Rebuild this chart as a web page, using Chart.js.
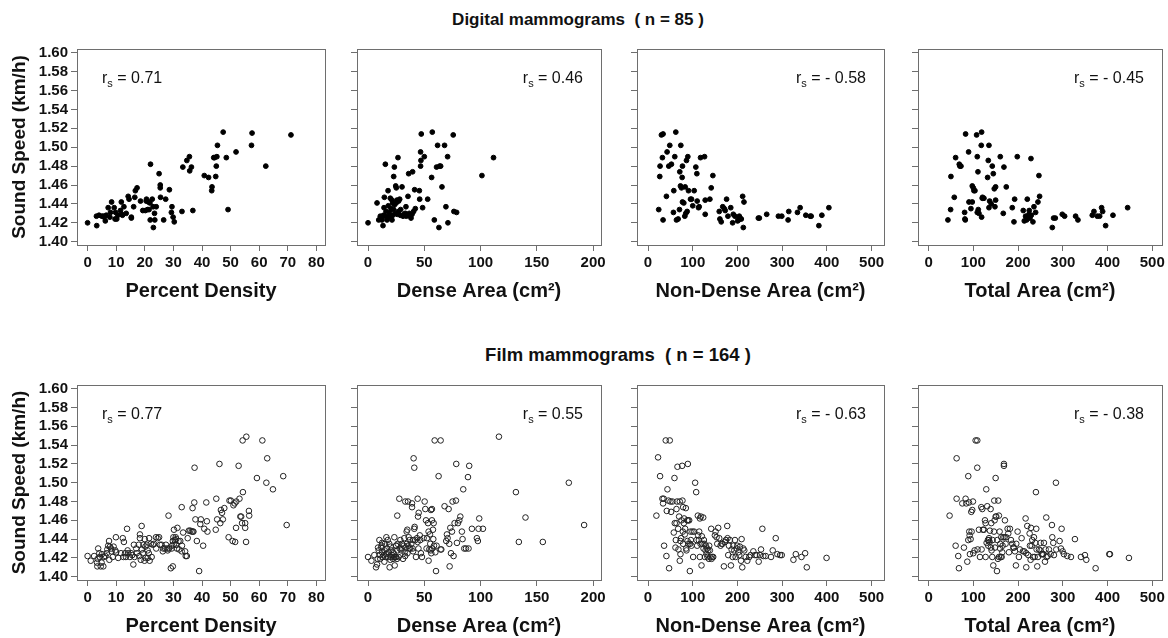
<!DOCTYPE html>
<html>
<head>
<meta charset="utf-8">
<script src="https://cdn.jsdelivr.net/npm/chart.js@4.4.0/dist/chart.umd.min.js"></script>
<style>
  html, body { margin: 0; padding: 0; background: #fff; overflow: hidden; }
  body { width: 1168px; height: 638px; position: relative; font-family: "Liberation Sans", Arial, sans-serif; }
  canvas { position: absolute; }
  .heading { position: absolute; font-weight: bold; white-space: pre; transform: translateX(-50%); color: #111; }
</style>
</head>
<body>
<div class="heading" style="left:578px; top:10px; font-size:17px;">Digital mammograms  ( n = 85 )</div>
<div class="heading" style="left:618px; top:344px; font-size:18.5px;">Film mammograms  ( n = 164 )</div>
<script>
// tick labels
const yTicks = [1.40, 1.42, 1.44, 1.46, 1.48, 1.50, 1.52, 1.54, 1.56, 1.58, 1.60];
const xTicksPercent = [0, 10, 20, 30, 40, 50, 60, 70, 80];
const xTicksDense = [0, 50, 100, 150, 200];
const xTicksArea = [0, 100, 200, 300, 400, 500];

const xTitles = ['Percent Density', 'Dense Area (cm²)', 'Non-Dense Area (cm²)', 'Total Area (cm²)'];
const yTitle = 'Sound Speed (km/h)';
const rsDigital = ['0.71', '0.46', '- 0.58', '- 0.45'];
const rsFilm = ['0.77', '0.55', '- 0.63', '- 0.38'];

// digital mammograms (n = 85), [x, sound speed]
const digitalPercent = [
  [0,1.420],[3.2,1.417],[3.1,1.427],[4.0,1.428],[5.0,1.427],[5.5,1.427],[5.8,1.426],[6.2,1.422],[6.5,1.428],[7.2,1.436],
  [7.8,1.426],[8.0,1.431],[8.4,1.442],[9.3,1.436],[9.6,1.424],[9.8,1.431],[10.2,1.424],[10.6,1.428],[11.5,1.433],[11.8,1.442],
  [12.0,1.429],[12.2,1.428],[12.7,1.437],[13.5,1.430],[14.2,1.448],[14.5,1.445],[15.3,1.426],[15.3,1.425],[16.1,1.437],[16.5,1.447],
  [16.7,1.454],[17.3,1.457],[18.5,1.443],[19.3,1.433],[20.2,1.433],[20.5,1.443],[20.6,1.445],[21.0,1.434],[21.3,1.442],[21.5,1.434],
  [21.8,1.441],[21.9,1.423],[22.0,1.482],[22.6,1.445],[22.9,1.437],[23.0,1.415],[23.4,1.430],[23.5,1.423],[24.0,1.437],[25.0,1.472],
  [25.4,1.457],[25.4,1.460],[25.5,1.447],[26.6,1.423],[27.3,1.445],[28.6,1.455],[29.3,1.431],[29.5,1.437],[29.9,1.426],[30.3,1.421],
  [33.0,1.432],[33.3,1.479],[34.7,1.486],[35.6,1.490],[35.7,1.475],[36.3,1.479],[36.8,1.433],[40.8,1.470],[42.3,1.468],[43.4,1.454],
  [43.5,1.458],[44.1,1.489],[44.4,1.489],[44.8,1.469],[45.0,1.480],[45.2,1.490],[45.4,1.502],[47.4,1.516],[48.5,1.489],[49.1,1.434],
  [51.9,1.495],[57.3,1.502],[57.5,1.515],[62.3,1.480],[71.1,1.513]
];
const digitalDense = [
  [0,1.420],[8.0,1.441],[9.5,1.423],[10.9,1.427],[11.5,1.425],[12.4,1.423],[13.0,1.427],[13.3,1.417],[13.9,1.428],[14.2,1.436],
  [14.5,1.447],[15.4,1.482],[15.4,1.427],[16.0,1.432],[16.9,1.423],[17.8,1.454],[18.0,1.438],[18.3,1.427],[19.0,1.431],[19.8,1.446],
  [20.0,1.426],[20.4,1.435],[21.3,1.444],[21.3,1.423],[21.9,1.441],[22.0,1.428],[22.8,1.434],[22.8,1.469],[23.4,1.479],[23.5,1.439],
  [24.3,1.430],[24.6,1.459],[25.0,1.441],[25.1,1.457],[25.7,1.444],[26.0,1.429],[26.6,1.489],[27.0,1.432],[27.2,1.443],[28.1,1.445],
  [28.7,1.428],[29.0,1.434],[30.2,1.458],[31.1,1.427],[32.0,1.429],[33.1,1.430],[33.7,1.437],[34.0,1.427],[35.5,1.448],[36.1,1.472],
  [36.7,1.430],[37.6,1.427],[38.2,1.425],[39.1,1.429],[39.6,1.474],[40.5,1.432],[41.4,1.455],[42.0,1.435],[45.6,1.454],[45.9,1.445],
  [46.7,1.480],[46.7,1.495],[47.0,1.486],[47.3,1.514],[48.5,1.436],[50.0,1.490],[53.0,1.445],[56.5,1.468],[57.1,1.516],[58.9,1.423],
  [60.9,1.479],[61.8,1.502],[63.0,1.415],[63.6,1.480],[64.5,1.480],[65.7,1.458],[68.0,1.502],[69.2,1.437],[70.7,1.490],[71.0,1.420],
  [75.7,1.513],[76.3,1.432],[78.7,1.431],[101.2,1.470],[111.5,1.489]
];
const digitalNonDense = [
  [23.9,1.434],[26.2,1.469],[26.9,1.480],[29.9,1.513],[32.1,1.489],[33.6,1.514],[33.6,1.423],[41.1,1.448],[42.6,1.495],[46.4,1.480],
  [48.6,1.502],[52.3,1.482],[56.8,1.431],[57.6,1.454],[59.8,1.490],[62.1,1.516],[63.6,1.423],[67.3,1.424],[70.3,1.434],[71.0,1.474],
  [72.5,1.459],[73.3,1.502],[74.8,1.457],[76.3,1.468],[77.0,1.480],[77.0,1.442],[80.0,1.441],[82.2,1.427],[83.0,1.458],[84.5,1.430],
  [86.0,1.486],[87.5,1.432],[89.0,1.490],[90.5,1.454],[95.0,1.445],[97.2,1.445],[100.0,1.438],[103.2,1.454],[106.9,1.479],[109.2,1.472],
  [109.9,1.443],[112.9,1.436],[114.4,1.437],[117.4,1.489],[126.4,1.490],[127.9,1.444],[127.9,1.429],[138.3,1.445],[141.3,1.457],[145.0,1.470],
  [159.3,1.432],[160.7,1.424],[163.7,1.421],[167.1,1.437],[170.5,1.435],[172.6,1.433],[175.7,1.445],[178.7,1.427],[185.0,1.436],[189.2,1.420],
  [190.7,1.429],[194.4,1.427],[200.4,1.422],[202.6,1.423],[204.1,1.427],[205.6,1.425],[208.6,1.424],[211.6,1.448],[213.1,1.415],[214.6,1.442],
  [246.7,1.425],[249.0,1.425],[265.4,1.429],[291.6,1.427],[299.1,1.427],[313.3,1.423],[314.8,1.432],[334.2,1.431],[340.2,1.436],[352.9,1.428],
  [362.6,1.427],[364.9,1.427],[382.1,1.417],[388.8,1.428],[404.5,1.436]
];
const digitalTotal = [
  [43.2,1.423],[49.2,1.434],[49.9,1.469],[57.4,1.447],[60.4,1.489],[68.6,1.482],[70.0,1.480],[72.3,1.480],[80.5,1.431],[81.2,1.424],
  [82.0,1.423],[82.7,1.514],[89.4,1.495],[90.2,1.442],[94.6,1.435],[97.6,1.442],[97.6,1.459],[99.9,1.457],[101.3,1.454],[103.6,1.454],
  [107.3,1.513],[108.8,1.490],[108.8,1.431],[110.3,1.474],[111.0,1.434],[112.5,1.430],[117.7,1.502],[118.5,1.516],[118.5,1.426],[120.0,1.446],
  [120.5,1.447],[123.7,1.446],[131.9,1.468],[133.4,1.486],[134.9,1.502],[134.9,1.436],[136.4,1.443],[140.0,1.440],[142.3,1.480],[144.6,1.472],
  [146.8,1.456],[148.3,1.437],[149.8,1.458],[149.8,1.444],[160.2,1.490],[166.9,1.430],[168.4,1.479],[173.6,1.458],[187.0,1.436],[190.8,1.421],
  [192.3,1.445],[198.2,1.490],[211.6,1.433],[213.9,1.422],[216.8,1.427],[219.1,1.423],[220.6,1.445],[222.1,1.427],[224.3,1.429],[225.0,1.433],
  [226.6,1.425],[228.8,1.488],[229.5,1.428],[233.2,1.421],[235.5,1.437],[239.2,1.431],[244.4,1.442],[246.6,1.470],[248.1,1.448],[276.5,1.415],
  [279.4,1.425],[283.2,1.425],[298.8,1.429],[304.0,1.427],[328.6,1.427],[333.8,1.423],[365.9,1.428],[369.6,1.432],[377.0,1.427],[382.3,1.427],
  [386.7,1.436],[389.0,1.432],[395.7,1.417],[412.1,1.428],[444.9,1.436]
];

// film mammograms (n = 164)
const filmPercent = [
  [0,1.422],[1.1,1.417],[2.3,1.422],[3.3,1.415],[3.4,1.411],[3.5,1.419],[3.7,1.430],[4.1,1.425],[4.3,1.421],[4.6,1.411],
  [4.9,1.415],[5.0,1.424],[5.5,1.411],[5.7,1.421],[6.2,1.422],[6.7,1.425],[6.9,1.429],[7.2,1.433],[7.5,1.438],[7.6,1.418],
  [7.8,1.432],[8.2,1.430],[8.4,1.427],[8.8,1.421],[9.1,1.432],[9.7,1.428],[9.9,1.442],[10.0,1.426],[10.7,1.420],[11.7,1.425],
  [12.3,1.441],[12.5,1.421],[12.7,1.437],[13.1,1.425],[13.4,1.421],[13.8,1.451],[14.0,1.428],[14.2,1.425],[14.8,1.421],[15.2,1.425],
  [15.6,1.423],[16.0,1.413],[16.2,1.434],[16.4,1.421],[17.0,1.430],[17.2,1.425],[17.9,1.434],[18.1,1.422],[18.3,1.445],[18.3,1.441],
  [18.6,1.418],[18.9,1.454],[19.0,1.429],[19.3,1.425],[19.5,1.434],[19.9,1.417],[20.0,1.440],[20.2,1.432],[20.3,1.420],[20.7,1.434],
  [21.0,1.428],[21.0,1.420],[21.4,1.425],[21.5,1.441],[21.7,1.417],[22.1,1.435],[22.4,1.421],[22.8,1.434],[23.2,1.435],[23.9,1.442],
  [24.0,1.430],[24.5,1.441],[25.0,1.442],[25.3,1.434],[25.9,1.434],[26.3,1.427],[26.5,1.430],[27.1,1.430],[27.4,1.434],[27.9,1.430],
  [28.0,1.428],[28.3,1.465],[28.5,1.430],[29.1,1.409],[29.4,1.430],[29.5,1.433],[29.8,1.411],[29.8,1.438],[30.0,1.442],[30.1,1.434],
  [30.2,1.450],[30.5,1.439],[30.8,1.442],[30.9,1.434],[31.0,1.440],[31.2,1.430],[31.4,1.452],[31.8,1.438],[32.0,1.429],[32.4,1.438],
  [32.9,1.474],[32.9,1.427],[33.0,1.433],[33.4,1.447],[34.1,1.427],[34.3,1.422],[34.7,1.422],[35.0,1.441],[35.4,1.449],[35.9,1.449],
  [36.4,1.448],[36.7,1.473],[36.8,1.448],[37.0,1.448],[37.3,1.479],[37.4,1.516],[37.7,1.461],[38.2,1.438],[39.0,1.406],[39.4,1.456],
  [39.6,1.461],[40.4,1.433],[40.8,1.451],[41.5,1.479],[41.7,1.459],[41.9,1.448],[44.8,1.450],[45.0,1.483],[45.3,1.461],[46.1,1.520],
  [46.4,1.457],[46.6,1.471],[47.0,1.468],[47.3,1.461],[47.8,1.473],[49.3,1.442],[49.6,1.481],[50.1,1.481],[50.7,1.438],[51.0,1.476],
  [51.4,1.478],[51.6,1.437],[51.9,1.452],[52.0,1.480],[52.8,1.518],[53.1,1.483],[53.4,1.464],[53.7,1.464],[54.0,1.457],[54.2,1.545],
  [54.3,1.490],[55.1,1.457],[55.1,1.452],[55.4,1.437],[55.5,1.549],[56.4,1.470],[56.5,1.465],[59.2,1.505],[61.1,1.545],[62.5,1.500],
  [62.8,1.526],[64.8,1.493],[68.4,1.507],[69.6,1.455]
];
const filmDense = [
  [0,1.421],[3.0,1.417],[5.6,1.423],[7.1,1.410],[8.0,1.413],[8.6,1.419],[8.9,1.431],[9.5,1.428],[10.1,1.439],[10.4,1.423],
  [10.9,1.419],[11.8,1.431],[12.0,1.433],[12.4,1.426],[12.5,1.436],[13.0,1.421],[13.9,1.423],[14.5,1.416],[14.8,1.428],[15.0,1.435],
  [15.4,1.421],[16.0,1.424],[16.3,1.442],[16.9,1.430],[17.5,1.439],[17.8,1.421],[18.3,1.426],[18.9,1.435],[19.2,1.410],[19.8,1.418],
  [20.0,1.432],[20.4,1.421],[20.7,1.428],[21.3,1.423],[21.9,1.426],[22.2,1.419],[22.8,1.425],[23.1,1.421],[23.4,1.442],[23.7,1.412],
  [24.3,1.421],[24.9,1.433],[25.0,1.433],[25.1,1.421],[25.7,1.419],[26.0,1.465],[26.0,1.428],[26.3,1.435],[27.2,1.421],[27.8,1.483],
  [28.1,1.430],[28.7,1.439],[29.6,1.428],[30.0,1.430],[30.2,1.435],[31.1,1.419],[31.7,1.433],[32.2,1.441],[32.5,1.426],[33.0,1.422],
  [33.1,1.480],[33.7,1.431],[34.3,1.448],[34.6,1.435],[34.9,1.450],[35.0,1.425],[35.5,1.480],[35.8,1.433],[36.1,1.442],[36.7,1.430],
  [37.0,1.439],[37.6,1.430],[38.5,1.435],[39.1,1.478],[39.1,1.474],[39.6,1.430],[40.0,1.427],[40.2,1.439],[40.5,1.526],[41.1,1.516],
  [41.1,1.451],[41.4,1.453],[42.0,1.439],[42.6,1.421],[43.5,1.441],[44.0,1.437],[44.1,1.483],[44.4,1.464],[44.8,1.430],[45.0,1.468],
  [46.0,1.444],[46.4,1.439],[47.0,1.425],[47.9,1.421],[49.4,1.441],[50.3,1.480],[50.9,1.472],[51.5,1.460],[52.0,1.430],[52.4,1.441],
  [53.3,1.457],[53.8,1.448],[53.8,1.417],[54.4,1.429],[55.0,1.445],[55.3,1.435],[55.6,1.428],[55.9,1.471],[56.2,1.425],[56.8,1.472],
  [56.8,1.460],[57.1,1.430],[57.7,1.450],[58.0,1.440],[58.3,1.457],[58.6,1.433],[59.2,1.545],[59.8,1.426],[60.4,1.406],[60.9,1.433],
  [62.7,1.507],[64.5,1.545],[64.5,1.429],[65.1,1.429],[68.0,1.475],[69.5,1.438],[70.1,1.445],[70.7,1.441],[71.6,1.472],[72.2,1.435],
  [72.5,1.411],[73.1,1.452],[73.7,1.425],[74.6,1.448],[75.1,1.480],[76.0,1.422],[76.9,1.457],[78.1,1.481],[78.4,1.520],[79.0,1.436],
  [79.9,1.457],[81.1,1.460],[82.0,1.464],[83.4,1.448],[84.0,1.440],[84.6,1.493],[85.5,1.430],[87.0,1.430],[88.8,1.506],[89.3,1.430],
  [89.9,1.518],[92.3,1.451],[96.7,1.441],[97.6,1.438],[98.2,1.451],[98.8,1.462],[102.1,1.451],[116.3,1.549],[131.4,1.490],[134.0,1.437],
  [139.9,1.463],[155.3,1.437],[178.4,1.500],[192.0,1.455]
];
const filmNonDense = [
  [18.7,1.465],[22.4,1.527],[26.9,1.507],[32.1,1.483],[33.6,1.478],[35.1,1.483],[35.9,1.433],[39.6,1.545],[41.1,1.422],[41.9,1.470],
  [43.4,1.493],[45.6,1.481],[47.1,1.409],[48.6,1.545],[50.1,1.480],[51.6,1.469],[54.6,1.480],[57.6,1.447],[59.1,1.505],[59.8,1.457],
  [61.3,1.431],[62.1,1.439],[63.6,1.472],[63.6,1.457],[65.0,1.480],[65.8,1.517],[67.3,1.451],[68.0,1.429],[69.5,1.464],[71.0,1.417],
  [71.0,1.480],[72.5,1.438],[72.5,1.424],[74.0,1.441],[74.8,1.460],[76.3,1.518],[77.0,1.481],[77.8,1.448],[78.5,1.474],[78.5,1.435],
  [80.0,1.457],[80.7,1.462],[82.2,1.445],[83.0,1.451],[84.5,1.473],[85.2,1.430],[86.0,1.428],[87.5,1.460],[88.2,1.438],[89.0,1.520],
  [89.7,1.460],[90.5,1.435],[92.0,1.460],[93.5,1.406],[94.2,1.435],[95.0,1.448],[95.7,1.439],[97.2,1.433],[99.4,1.448],[100.9,1.421],
  [103.2,1.448],[105.4,1.500],[107.7,1.490],[108.4,1.439],[109.9,1.433],[111.4,1.465],[112.1,1.444],[113.6,1.439],[114.4,1.448],[115.9,1.462],
  [115.9,1.421],[117.4,1.435],[118.1,1.464],[119.6,1.412],[120.4,1.443],[121.9,1.435],[123.4,1.463],[124.1,1.430],[124.9,1.439],[126.4,1.435],
  [127.1,1.421],[128.6,1.428],[129.3,1.433],[130.8,1.424],[132.3,1.430],[133.1,1.421],[134.6,1.428],[136.1,1.419],[136.8,1.433],[138.3,1.428],
  [139.8,1.421],[141.3,1.451],[142.1,1.419],[143.6,1.421],[145.8,1.421],[149.5,1.444],[151.0,1.448],[153.3,1.442],[154.8,1.435],[157.0,1.452],
  [159.3,1.441],[162.2,1.433],[164.5,1.435],[166.7,1.435],[169.7,1.411],[172.0,1.437],[174.2,1.439],[177.2,1.454],[177.9,1.441],[179.4,1.423],
  [180.9,1.433],[183.2,1.439],[185.4,1.412],[186.9,1.429],[189.2,1.421],[190.7,1.433],[192.9,1.428],[194.4,1.439],[195.9,1.421],[198.1,1.430],
  [199.6,1.433],[201.9,1.426],[204.1,1.423],[205.6,1.432],[207.9,1.417],[209.3,1.440],[210.8,1.410],[213.1,1.430],[215.3,1.428],[218.3,1.421],
  [222.1,1.417],[226.5,1.421],[229.5,1.423],[235.5,1.427],[239.3,1.423],[243.0,1.423],[247.5,1.416],[250.5,1.423],[252.7,1.429],[255.7,1.451],
  [257.9,1.422],[263.2,1.422],[275.1,1.421],[278.9,1.428],[285.6,1.441],[289.3,1.424],[295.3,1.423],[299.1,1.423],[325.2,1.418],[330.5,1.424],
  [343.2,1.421],[351.4,1.425],[355.1,1.410],[399.3,1.420]
];
const filmTotal = [
  [46.9,1.465],[60.4,1.433],[62.6,1.526],[62.6,1.483],[66.3,1.422],[67.8,1.409],[75.3,1.478],[79.0,1.431],[82.7,1.483],[84.2,1.478],
  [86.5,1.416],[88.7,1.439],[88.7,1.507],[90.2,1.479],[90.9,1.448],[91.7,1.444],[92.4,1.424],[93.9,1.440],[95.4,1.469],[96.1,1.448],
  [97.6,1.471],[99.1,1.480],[99.9,1.425],[102.8,1.428],[105.1,1.545],[108.8,1.545],[108.8,1.516],[109.5,1.429],[112.5,1.450],[114.8,1.421],
  [117.7,1.474],[118.5,1.429],[120.0,1.472],[121.5,1.450],[123.7,1.450],[126.0,1.460],[127.4,1.457],[127.4,1.421],[128.9,1.493],[129.7,1.436],
  [131.1,1.475],[132.6,1.439],[133.4,1.433],[134.9,1.439],[135.0,1.441],[136.4,1.437],[137.1,1.449],[138.6,1.472],[139.3,1.431],[140.1,1.457],
  [140.8,1.428],[142.3,1.421],[143.1,1.439],[144.6,1.412],[146.1,1.448],[146.8,1.481],[147.5,1.460],[148.3,1.431],[149.8,1.505],[149.8,1.464],
  [151.3,1.464],[152.8,1.406],[153.5,1.439],[155.0,1.419],[155.7,1.481],[157.2,1.465],[157.2,1.421],[158.7,1.448],[160.0,1.430],[160.2,1.435],
  [161.0,1.421],[162.4,1.442],[163.2,1.421],[164.7,1.426],[165.4,1.433],[166.9,1.442],[168.4,1.520],[168.4,1.518],[169.9,1.442],[170.6,1.460],
  [172.1,1.435],[173.6,1.442],[176.6,1.451],[178.1,1.446],[179.6,1.426],[181.8,1.451],[184.1,1.439],[187.0,1.435],[189.3,1.431],[190.8,1.431],
  [193.0,1.427],[195.2,1.412],[196.0,1.435],[198.9,1.448],[201.9,1.421],[204.2,1.429],[207.9,1.441],[210.9,1.427],[213.9,1.427],[216.8,1.462],
  [218.3,1.425],[218.3,1.410],[220.6,1.454],[222.8,1.423],[225.8,1.446],[226.5,1.433],[228.0,1.418],[228.8,1.452],[230.3,1.433],[231.7,1.439],
  [233.2,1.421],[235.5,1.442],[237.0,1.421],[238.5,1.436],[239.9,1.490],[240.7,1.451],[241.4,1.429],[242.9,1.411],[244.4,1.421],[246.6,1.429],
  [250.0,1.428],[250.4,1.436],[252.6,1.424],[254.1,1.424],[256.3,1.424],[257.8,1.436],[260.1,1.416],[261.5,1.429],[263.0,1.463],[263.8,1.421],
  [266.0,1.422],[269.0,1.429],[272.7,1.424],[275.7,1.455],[276.5,1.442],[278.7,1.436],[280.2,1.423],[284.6,1.500],[285.4,1.429],[292.8,1.438],
  [295.8,1.430],[297.3,1.451],[299.6,1.427],[302.5,1.424],[310.0,1.422],[318.2,1.421],[327.1,1.440],[340.5,1.421],[349.5,1.423],[352.5,1.418],
  [373.3,1.409],[403.9,1.424],[405.4,1.424],[447.8,1.420]
];

// layout of the 2 x 4 grid (plot box in page pixels)
const colLeft = [77, 357, 637, 918];
const colWidth = [248, 244, 247, 244];
const rowTop = [49, 385];
const rowHeight = [196, 195];
const xRange = [[-3.7, 83.0], [-9.8, 207], [-24.7, 527.8], [-23.7, 521.7]];
const xTicksByCol = [xTicksPercent, xTicksDense, xTicksArea, xTicksArea];
const yMin = 1.3965, yMax = 1.604;

const PAD_TOP = 16, PAD_RIGHT = 16, X_AXIS_H = 62;
const AXIS_COLOR = '#6e6e6e';
const TEXT_COLOR = '#111';
const FAMILY = '"Liberation Sans", Arial, Helvetica, sans-serif';

// grey frame round the plot area
const boxPlugin = {
  id: 'box',
  afterDraw(chart) {
    const a = chart.chartArea, c = chart.ctx;
    c.save();
    c.strokeStyle = AXIS_COLOR;
    c.lineWidth = 1;
    c.strokeRect(Math.round(a.left) + 0.5, Math.round(a.top) + 0.5, Math.round(a.right - a.left), Math.round(a.bottom - a.top));
    c.restore();
  }
};

// "r_s = value" note in the corner
const rsPlugin = {
  id: 'rsLabel',
  afterDatasetsDraw(chart, args, opts) {
    const { ctx, chartArea: a } = chart;
    const main = '16px ' + FAMILY, sub = '11px ' + FAMILY;
    const rest = ' = ' + opts.value;
    ctx.save();
    ctx.fillStyle = TEXT_COLOR;
    ctx.textBaseline = 'alphabetic';
    ctx.textAlign = 'left';
    ctx.font = main;
    const wr = ctx.measureText('r').width;
    const wrest = ctx.measureText(rest).width;
    ctx.font = sub;
    const ws = ctx.measureText('s').width;
    const x0 = opts.align === 'left' ? a.left + 25 : a.right - 18 - (wr + ws + wrest);
    const y = a.top + 34;
    ctx.font = main;
    ctx.fillText('r', x0, y);
    ctx.font = sub;
    ctx.fillText('s', x0 + wr, y + 4);
    ctx.font = main;
    ctx.fillText(rest, x0 + wr + ws, y);
    ctx.restore();
  }
};

function makePanel(row, col, pts, rs) {
  const L = col === 0 ? 77 : 12;
  const w = L + colWidth[col] + PAD_RIGHT;
  const h = PAD_TOP + rowHeight[row] + X_AXIS_H;
  const canvas = document.createElement('canvas');
  canvas.width = w;
  canvas.height = h;
  canvas.style.left = (colLeft[col] - L) + 'px';
  canvas.style.top = (rowTop[row] - PAD_TOP) + 'px';
  canvas.style.width = w + 'px';
  canvas.style.height = h + 'px';
  document.body.appendChild(canvas);

  const filled = row === 0;
  new Chart(canvas, {
    type: 'scatter',
    data: {
      datasets: [{
        data: pts.map(p => ({ x: p[0], y: p[1] })),
        pointRadius: filled ? 2.4 : 2.8,
        pointBorderWidth: 1,
        pointBackgroundColor: filled ? '#000' : 'rgba(0,0,0,0)',
        pointBorderColor: filled ? '#000' : '#222'
      }]
    },
    options: {
      responsive: false,
      animation: false,
      devicePixelRatio: 1,
      layout: { padding: { top: PAD_TOP, right: PAD_RIGHT, left: 0, bottom: 0 } },
      plugins: {
        legend: { display: false },
        tooltip: { enabled: false },
        rsLabel: { value: rs, align: col === 0 ? 'left' : 'right' }
      },
      scales: {
        x: {
          type: 'linear',
          position: 'bottom',
          min: xRange[col][0],
          max: xRange[col][1],
          afterBuildTicks: s => { s.ticks = xTicksByCol[col].map(v => ({ value: v })); },
          afterFit: s => { s.height = X_AXIS_H; },
          grid: { drawOnChartArea: false, drawTicks: true, tickLength: 6, color: AXIS_COLOR },
          border: { display: true, color: AXIS_COLOR },
          ticks: { padding: 3, color: TEXT_COLOR, autoSkip: false, maxRotation: 0,
                   font: { family: FAMILY, size: 15, weight: 'bold' } },
          title: { display: true, text: xTitles[col], color: TEXT_COLOR,
                   font: { family: FAMILY, size: 20, weight: 'bold' }, padding: { top: 0, bottom: 4 } }
        },
        y: {
          type: 'linear',
          position: 'left',
          min: yMin,
          max: yMax,
          afterBuildTicks: s => { s.ticks = yTicks.map(v => ({ value: v })); },
          afterFit: s => { s.width = L; },
          grid: { drawOnChartArea: false, drawTicks: true, tickLength: 6, color: AXIS_COLOR },
          border: { display: true, color: AXIS_COLOR },
          ticks: { padding: 3, color: TEXT_COLOR, autoSkip: false,
                   callback: v => col === 0 ? v.toFixed(2) : '',
                   font: { family: FAMILY, size: 15, weight: 'bold' } },
          title: { display: col === 0, text: yTitle, color: TEXT_COLOR,
                   font: { family: FAMILY, size: 19, weight: 'bold' }, padding: { top: 8, bottom: 0 } }
        }
      }
    },
    plugins: [boxPlugin, rsPlugin]
  });
}

const digitalSets = [digitalPercent, digitalDense, digitalNonDense, digitalTotal];
const filmSets = [filmPercent, filmDense, filmNonDense, filmTotal];
digitalSets.forEach((pts, i) => makePanel(0, i, pts, rsDigital[i]));
filmSets.forEach((pts, i) => makePanel(1, i, pts, rsFilm[i]));
</script>
</body>
</html>
